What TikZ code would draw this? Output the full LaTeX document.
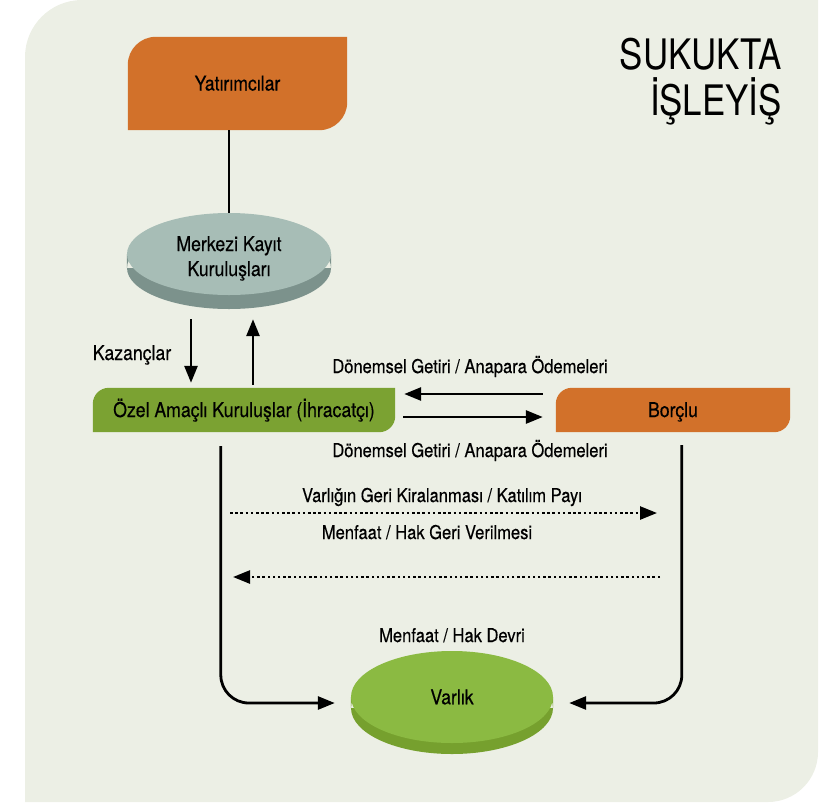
\documentclass[tikz,border=0pt]{standalone}
\usepackage{fontspec}
\setmainfont{TeX Gyre Heros}[FakeStretch=0.87,FakeBold=0.35]
\newfontfamily\titlefont{TeX Gyre Heros}[FakeStretch=0.83]
\usetikzlibrary{arrows.meta,calc,positioning,shapes.geometric,backgrounds}
\definecolor{panel}{RGB}{236,239,229}
\definecolor{orng}{RGB}{210,113,42}
\definecolor{sakgreen}{RGB}{123,162,50}
\definecolor{mkktop}{RGB}{167,189,182}
\definecolor{mkkside}{RGB}{124,146,140}
\definecolor{vartop}{RGB}{139,186,66}
\definecolor{varside}{RGB}{118,160,46}
\newcommand{\leaffill}[3]{\fill[#3] (#1.south west) -- ($(#1.north west)+(0,#2)$) arc[start angle=180,end angle=270,radius=#2] -- (#1.north east) -- ($(#1.south east)-(0,#2)$) arc[start angle=0,end angle=90,radius=#2] -- cycle;}
\newcommand{\discside}[3]{\fill[#3] ($(#1)+(0,#2)$) ellipse[x radius=\discrx,y radius=\discry] (#1.west) rectangle ($(#1.east)+(0,#2)$);}
\begin{document}
\begin{tikzpicture}[x=1pt,y=-1pt,font=\fontsize{20.3}{24}\selectfont,
 leaf/.style={rectangle,inner sep=0pt,text height=15pt,text depth=1pt},
 disc/.style={ellipse,inner sep=0pt,align=center},
 lbl/.style={anchor=base,inner sep=0pt,font=\fontsize{19}{22}\selectfont},
 arr/.style={line width=2.8pt,-{Triangle[length=17pt,width=13pt]}},
 dotarr/.style={line width=2.5pt,dash pattern=on 2.5pt off 2.7pt,-{Triangle[length=17pt,width=13pt]}}]
\useasboundingbox (0,0) rectangle (832,804);
\node[leaf,minimum width=219pt,minimum height=93pt] (yat) at (237.5,83.5) {Yatırımcılar};
\node[disc,fill=mkktop,minimum width=204pt,minimum height=82pt,text height=48pt,text depth=4pt,font=\fontsize{20.3}{25}\selectfont] (mkk) at (229,254) {Merkezi Kayıt\\Kuruluşları};
\node[leaf,minimum width=302pt,minimum height=44pt] (sak) at (244,410) {Özel Amaçlı Kuruluşlar (İhracatçı)};
\node[leaf,minimum width=234pt,minimum height=44pt] (bor) at (673,410) {Borçlu};
\node[disc,fill=vartop,minimum width=202pt,minimum height=92pt] (var) at (452,697) {Varlık};
\node[anchor=north east,align=right,inner sep=0pt,font=\titlefont\fontsize{42}{46}\selectfont] (ttl) at (782,37.5) {SUKUKTA\\İŞLEYİŞ};
\node[anchor=base,inner sep=0pt] (kaz) at (132,360) {Kazançlar};
\node[lbl] (don1) at (470,373) {Dönemsel Getiri / Anapara Ödemeleri};
\node[lbl] (don2) at (470,457) {Dönemsel Getiri / Anapara Ödemeleri};
\node[lbl] (vgk) at (442,502) {Varlığın Geri Kiralanması / Katılım Payı};
\node[lbl] (mhg) at (427,539) {Menfaat / Hak Geri Verilmesi};
\node[lbl] (mhd) at (452,642) {Menfaat / Hak Devri};
\begin{scope}[on background layer]
\fill[panel] (25,802) -- (25,57) arc[start angle=180,end angle=270,radius=57] -- (818,0) -- (818,752) arc[start angle=0,end angle=90,radius=50] -- cycle;
\leaffill{yat}{28}{orng}
\leaffill{sak}{16}{sakgreen}
\leaffill{bor}{16}{orng}
\def\discrx{102}\def\discry{41}\discside{mkk}{14}{mkkside}
\def\discrx{101}\def\discry{46}\discside{var}{11}{varside}
\end{scope}
\draw[line width=2.8pt] (mkk.north |- yat.south) -- (mkk.north);
\path ($(mkk.south)+(-38,24)$) coordinate (k1) ($(mkk.south)+(24,24)$) coordinate (k2);
\draw[arr] (k1) -- ($(sak.north -| k1)+(0,-5)$);
\draw[arr] ($(sak.north -| k2)+(0,-3)$) -- (k2);
\draw[arr] ([xshift=-13pt,yshift=16pt]bor.west) -- ([xshift=9pt,yshift=16pt]sak.east);
\draw[arr] ([xshift=8pt,yshift=-7pt]sak.east) -- ([xshift=-13pt,yshift=-7pt]bor.west);
\draw[arr,rounded corners=28pt] ($(sak.south west)+(128,14)$) |- ([xshift=-16pt,yshift=-6pt]var.west);
\draw[arr,rounded corners=28pt] ($(bor.south west)+(126,13)$) |- ([xshift=16pt,yshift=-6pt]var.east);
\coordinate (d1) at (230,513);
\coordinate (d2) at (657,513);
\coordinate (d3) at (660,577);
\coordinate (d4) at (233,577);
\draw[dotarr] (d1) -- (d2);
\draw[dotarr] (d3) -- (d4);
\end{tikzpicture}
\end{document}
